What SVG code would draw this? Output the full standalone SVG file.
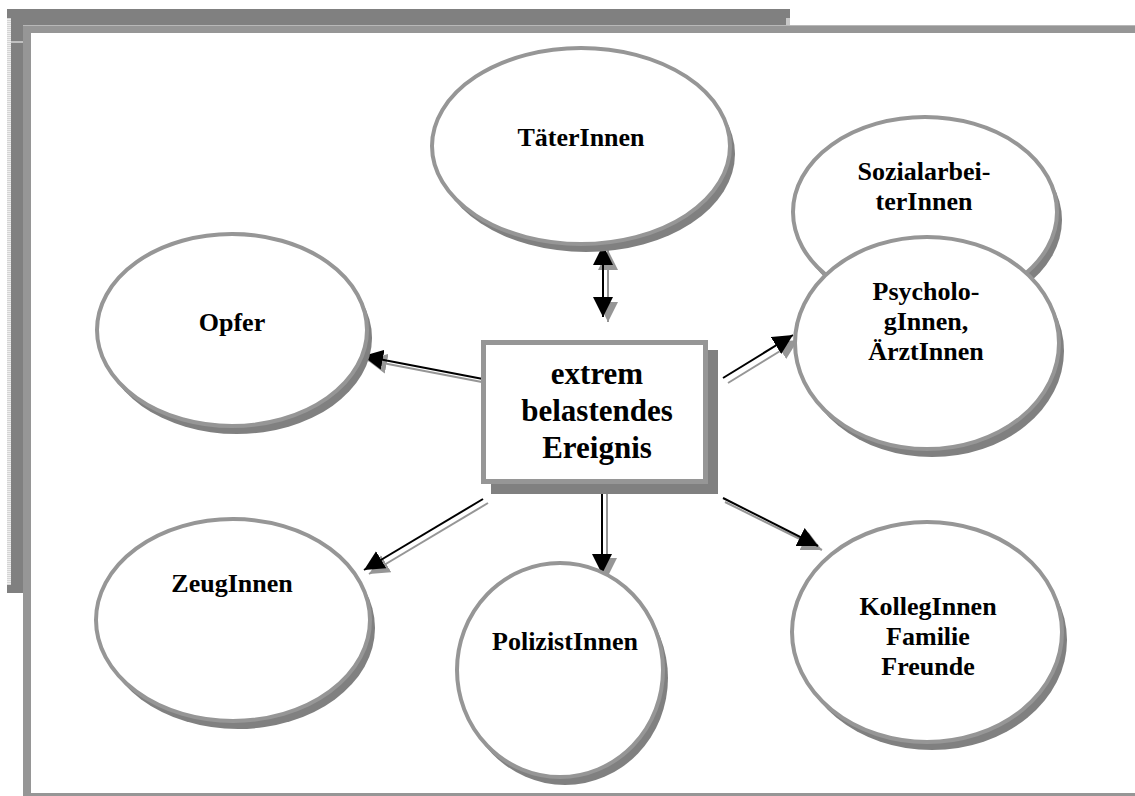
<svg xmlns="http://www.w3.org/2000/svg" width="1135" height="796" viewBox="0 0 1135 796">
  <defs>
    <style>
      .shadow { fill: #808080; }
      .node { fill: #ffffff; stroke: #969696; stroke-width: 4; }
      .lbl { font-family: "Liberation Serif", "Times New Roman", serif; font-weight: bold; font-size: 26px; fill: #000; text-anchor: middle; }
      .big { font-size: 31px; }
      .wire { stroke: #000; stroke-width: 2; fill: none; }
      .wire-sh { stroke: #969696; stroke-width: 2; fill: none; }
    </style>
    <marker id="head" markerUnits="userSpaceOnUse" markerWidth="22" markerHeight="20" refX="20" refY="10" orient="auto-start-reverse">
      <path d="M0,0 L20,10 L0,20 Z" fill="#000"/>
    </marker>
    <marker id="head-sh" markerUnits="userSpaceOnUse" markerWidth="22" markerHeight="20" refX="20" refY="10" orient="auto-start-reverse">
      <path d="M0,0 L20,10 L0,20 Z" fill="#969696"/>
    </marker>
    <pattern id="stripes" width="4" height="2" patternUnits="userSpaceOnUse">
      <rect width="4" height="1" fill="#d4d4d4"/>
      <rect y="1" width="4" height="1" fill="#eeeeee"/>
    </pattern>
  </defs>

  <!-- page frame -->
  <g id="frame">
    <rect x="7" y="9" width="783" height="16" fill="#808080"/>
    <rect x="7" y="9" width="16" height="584" fill="#808080"/>
    <rect x="7" y="18" width="4" height="567" fill="url(#stripes)"/>
    <rect x="786" y="18" width="4" height="7" fill="#c8c8c8"/>
    <rect x="11" y="41.5" width="12" height="1" fill="#ffffff"/>
    <rect x="23" y="25" width="8" height="771" fill="#969696"/>
    <rect x="23" y="25" width="1112" height="8" fill="#969696"/>
    <rect x="23" y="25" width="1112" height="1" fill="#b8b8b8"/>
    <rect x="31" y="793" width="1104" height="3" fill="#969696"/>
  </g>

  <!-- connectors: grey offset copy first, then the black arrow -->
  <g id="connectors">
    <g id="to-opfer">
      <path class="wire-sh" d="M487,383 L367,360" marker-end="url(#head-sh)"/>
      <path class="wire" d="M483,379 L363,356" marker-end="url(#head)"/>
    </g>
    <g id="to-taeter">
      <path class="wire-sh" d="M608,250 L608,322" marker-start="url(#head-sh)" marker-end="url(#head-sh)"/>
      <path class="wire" d="M603,245 L603,317" marker-start="url(#head)" marker-end="url(#head)"/>
    </g>
    <g id="to-psych">
      <path class="wire-sh" d="M728,383 L798,340" marker-end="url(#head-sh)"/>
      <path class="wire" d="M723,378 L793,335" marker-end="url(#head)"/>
    </g>
    <g id="to-zeug">
      <path class="wire-sh" d="M488,503 L369,574" marker-end="url(#head-sh)"/>
      <path class="wire" d="M483,499 L364,570" marker-end="url(#head)"/>
    </g>
    <g id="to-polizist">
      <path class="wire-sh" d="M607,486 L607,578" marker-end="url(#head-sh)"/>
      <path class="wire" d="M602,486 L602,574" marker-end="url(#head)"/>
    </g>
    <g id="to-kolleg">
      <path class="wire-sh" d="M725,502 L822,550" marker-end="url(#head-sh)"/>
      <path class="wire" d="M723,498 L818,546" marker-end="url(#head)"/>
    </g>
  </g>

  <!-- central event box -->
  <g id="ereignis">
    <rect class="shadow" x="491" y="350" width="227" height="144"/>
    <rect x="483.5" y="342.5" width="222" height="139" fill="#fff" stroke="#969696" stroke-width="5"/>
    <text class="lbl big" x="597" y="384">extrem</text>
    <text class="lbl big" x="597" y="421">belastendes</text>
    <text class="lbl big" x="597" y="458">Ereignis</text>
  </g>

  <g id="taeter">
    <ellipse class="shadow" cx="586" cy="154" rx="149" ry="98"/>
    <ellipse class="node" cx="581" cy="146" rx="149" ry="98"/>
    <text class="lbl" x="581" y="146">TäterInnen</text>
  </g>

  <g id="opfer">
    <ellipse class="shadow" cx="237" cy="338" rx="135" ry="96"/>
    <ellipse class="node" cx="232" cy="330" rx="135" ry="96"/>
    <text class="lbl" x="232" y="331">Opfer</text>
  </g>

  <g id="sozial">
    <ellipse class="shadow" cx="930" cy="220" rx="132" ry="95"/>
    <ellipse class="node" cx="925" cy="212" rx="132" ry="95"/>
    <text class="lbl" x="924" y="180">Sozialarbei-</text>
    <text class="lbl" x="924" y="210">terInnen</text>
  </g>

  <g id="psych">
    <ellipse class="shadow" cx="932" cy="351" rx="132" ry="106"/>
    <ellipse class="node" cx="927" cy="343" rx="132" ry="106"/>
    <text class="lbl" x="926" y="300">Psycholo-</text>
    <text class="lbl" x="926" y="330">gInnen,</text>
    <text class="lbl" x="926" y="360">ÄrztInnen</text>
  </g>

  <g id="zeug">
    <ellipse class="shadow" cx="238" cy="628" rx="137" ry="101"/>
    <ellipse class="node" cx="233" cy="620" rx="137" ry="101"/>
    <text class="lbl" x="232" y="592">ZeugInnen</text>
  </g>

  <g id="polizist">
    <ellipse class="shadow" cx="565" cy="678" rx="103" ry="107"/>
    <ellipse class="node" cx="560" cy="670" rx="103" ry="107"/>
    <text class="lbl" x="565" y="650">PolizistInnen</text>
  </g>

  <g id="kolleg">
    <ellipse class="shadow" cx="932" cy="640" rx="135" ry="110"/>
    <ellipse class="node" cx="927" cy="632" rx="135" ry="110"/>
    <text class="lbl" x="928" y="615">KollegInnen</text>
    <text class="lbl" x="928" y="645">Familie</text>
    <text class="lbl" x="928" y="675">Freunde</text>
  </g>
</svg>
